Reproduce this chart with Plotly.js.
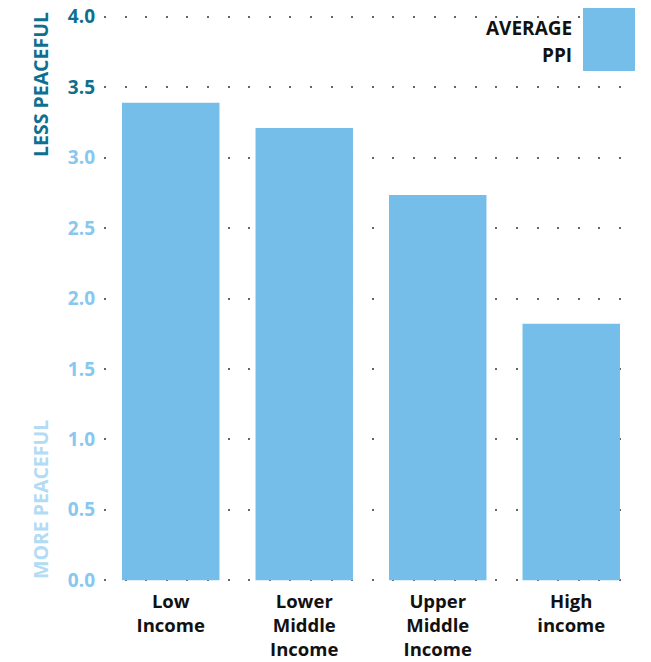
<!DOCTYPE html>
<html>
<head>
<meta charset="utf-8">
<script src="https://cdn.plot.ly/plotly-3.0.1.min.js"></script>
<style>html,body{margin:0;padding:0;background:#fff;}#chart{width:651px;height:662px;}</style>
</head>
<body>
<div id="chart"></div>
<script>
var categories = ["Low<br>Income", "Lower<br>Middle<br>Income", "Upper<br>Middle<br>Income", "High<br>income"];
var averagePPI = [3.39, 3.21, 2.735, 1.82];
var yTickValues = [0, 0.5, 1.0, 1.5, 2.0, 2.5, 3.0, 3.5, 4.0];
var yTickLabels = ["0.0", "0.5", "1.0", "1.5", "2.0", "2.5", "3.0", "3.5", "4.0"];
var seriesName = "AVERAGE PPI";

var darkTeal = "#0f6f8f";
var lightBlue = "#88c7ee";
var barColor = "#75bee9";

var coloredTicks = yTickLabels.map(function (t, i) {
  var c = yTickValues[i] >= 3.5 ? darkTeal : lightBlue;
  return '<span style="color:' + c + '">' + t + '</span>';
});

var trace = {
  type: "bar",
  x: categories,
  y: averagePPI,
  name: seriesName,
  marker: { color: barColor },
  hoverinfo: "none"
};

var layout = {
  width: 651,
  height: 662,
  margin: { l: 104, r: 13, t: 14, b: 79 },
  paper_bgcolor: "#fff",
  plot_bgcolor: "#fff",
  showlegend: false,
  bargap: 0.27,
  font: { family: "Open Sans, sans-serif", color: "#111" },
  xaxis: {
    showgrid: false,
    zeroline: false,
    showline: false,
    ticks: "",
    ticklabelstandoff: 5,
    tickfont: { family: "Open Sans, sans-serif", size: 18.5, color: "#111", weight: "bold" },
    fixedrange: true
  },
  yaxis: {
    range: [-0.02, 4.02],
    tickvals: yTickValues,
    ticktext: coloredTicks,
    tickfont: { family: "Open Sans, sans-serif", size: 19, weight: "bold" },
    ticks: "",
    ticklabelstandoff: 8,
    showgrid: true,
    gridcolor: "#666",
    gridwidth: 2,
    griddash: "2px,18.6px",
    zeroline: false,
    showline: false,
    fixedrange: true
  },
  shapes: [{
    type: "rect", xref: "paper", yref: "paper", layer: "above",
    x0: (583 - 104) / 534, x1: (635 - 104) / 534,
    y0: (583 - 71) / 569, y1: (583 - 8) / 569,
    fillcolor: barColor, line: { width: 0 }
  }],
  annotations: [
    { text: "AVERAGE", xref: "paper", yref: "paper", x: (574 - 104) / 534, y: (583 - 28) / 569,
      xanchor: "right", yanchor: "middle", showarrow: false,
      font: { family: "Open Sans, sans-serif", size: 19, color: "#111", weight: "bold" } },
    { text: "PPI", xref: "paper", yref: "paper", x: (574 - 104) / 534, y: (583 - 55) / 569,
      xanchor: "right", yanchor: "middle", showarrow: false,
      font: { family: "Open Sans, sans-serif", size: 19, color: "#111", weight: "bold" } },
    { text: "LESS PEACEFUL", xref: "paper", yref: "paper", x: (40 - 104) / 534, y: (583 - 85) / 569,
      xanchor: "center", yanchor: "middle", textangle: -90, showarrow: false,
      font: { family: "Open Sans, sans-serif", size: 19.5, color: darkTeal, weight: "bold" } },
    { text: "MORE PEACEFUL", xref: "paper", yref: "paper", x: (40 - 104) / 534, y: (583 - 500) / 569,
      xanchor: "center", yanchor: "middle", textangle: -90, showarrow: false,
      font: { family: "Open Sans, sans-serif", size: 19.5, color: "#b3dbf4", weight: "bold" } }
  ]
};

Plotly.newPlot("chart", [trace], layout, { staticPlot: true, displayModeBar: false });
</script>
</body>
</html>
